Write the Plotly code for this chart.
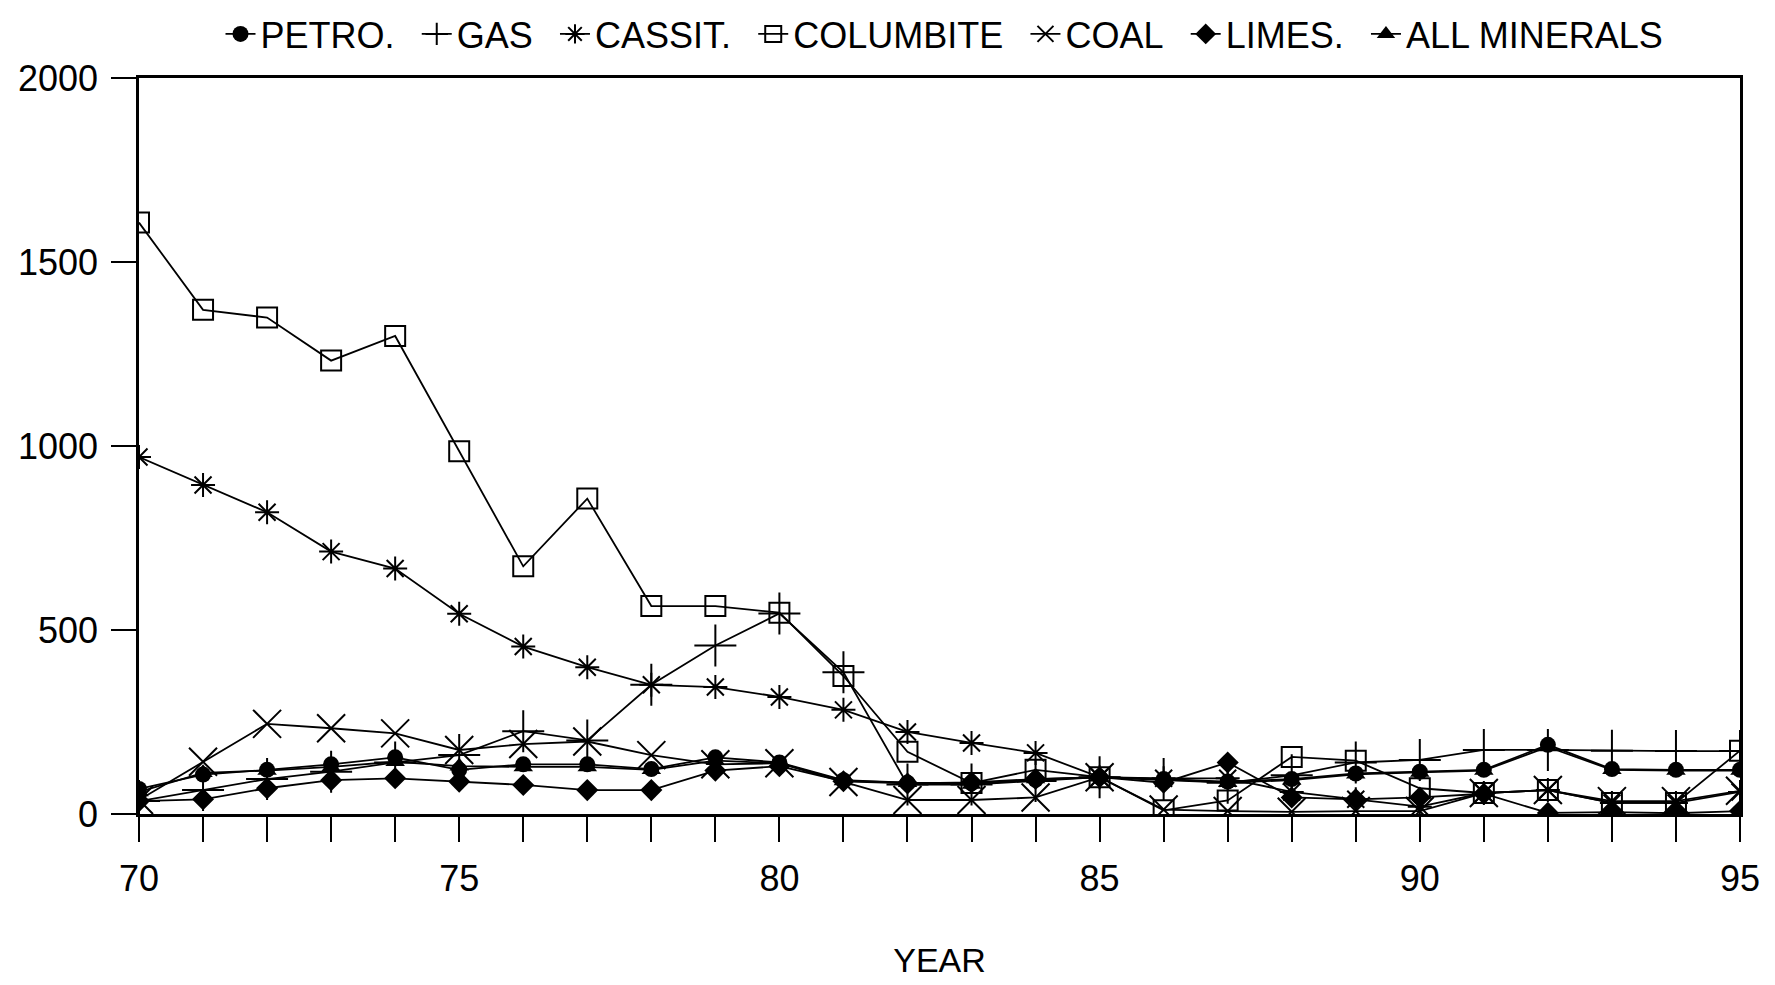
import plotly.graph_objects as go

years = list(range(70, 96))

petro = [68, 107, 120, 135, 154, 120, 135, 135, 122, 154, 140, 92, 85, 83, 93, 100,
         95, 88, 95, 110, 115, 120, 188, 122, 120, 120]
gas = [35, 65, 95, 115, 140, 160, 225, 200, 351, 458, 545, 385, 80, 80, 90, 100,
       95, 85, 105, 140, 147, 174, 174, 172, 171, 171]
cassit = [970, 894, 820, 713, 667, 544, 455, 399, 351, 345, 318, 283, 223, 193, 166, 100,
          97, 97, 60, 40, 20, 57, 65, 30, 30, 60]
columbite = [1607, 1370, 1349, 1232, 1299, 986, 673, 857, 565, 565, 547, 375, 169, 84, 120, 100,
             10, 37, 155, 145, 70, 57, 65, 30, 30, 172]
coal = [38, 142, 245, 233, 219, 174, 190, 197, 160, 135, 138, 87, 38, 38, 45, 100,
        12, 8, 6, 8, 8, 57, 65, 35, 35, 63]
limes = [35, 40, 70, 92, 97, 88, 79, 65, 65, 118, 130, 89, 83, 86, 95, 100,
         85, 140, 45, 40, 45, 55, 3, 5, 2, 8]
all_min = [60, 112, 118, 128, 142, 130, 128, 128, 120, 145, 138, 90, 85, 80, 95, 100,
           92, 85, 92, 108, 113, 118, 182, 120, 118, 118]

names = ["PETRO.", "GAS", "CASSIT.", "COLUMBITE", "COAL", "LIMES.", "ALL MINERALS"]
values = [petro, gas, cassit, columbite, coal, limes, all_min]

OPEN = dict(width=2, color="black")
markers = [
    dict(symbol="circle", size=16, color="black"),
    dict(symbol="cross-thin-open", size=30, color="black", line=OPEN),
    dict(symbol="asterisk-open", size=20, color="black", line=OPEN),
    dict(symbol="square-open", size=20, color="black", line=OPEN),
    dict(symbol="x-thin-open", size=28, color="black", line=OPEN),
    dict(symbol="diamond", size=17, color="black"),
    dict(symbol="triangle-up", size=17, color="black"),
]

fig = go.Figure()
for i, (name, vals, mk) in enumerate(zip(names, values, markers)):
    label = name if i == len(names) - 1 else name + "\u00a0\u2009"
    fig.add_trace(go.Scatter(
        x=years, y=vals, name=label, mode="lines+markers",
        line=dict(color="black", width=1.8), marker=mk,
    ))

FONT = "Liberation Sans, Arial, Helvetica, sans-serif"

fig.update_layout(
    width=1767, height=977,
    margin=dict(l=131, r=35, t=70, b=171, autoexpand=False),
    paper_bgcolor="white", plot_bgcolor="white",
    font=dict(family=FONT, size=36, color="black"),
    legend=dict(orientation="h", xref="container", yref="container",
                x=0.530, xanchor="center", y=0.9734, yanchor="middle",
                font=dict(size=36), itemwidth=30, bgcolor="rgba(0,0,0,0)"),
    showlegend=True,
)
fig.update_xaxes(
    range=[70, 95], tickmode="linear", tick0=70, dtick=5,
    ticks="outside", ticklen=25, tickwidth=2, tickcolor="black",
    minor=dict(ticks="outside", ticklen=25, tickwidth=2, tickcolor="black", dtick=1, tick0=70),
    showline=True, linecolor="black", linewidth=2.5, mirror=True,
    showgrid=False, zeroline=False, ticklabelstandoff=6, automargin=False,
    tickfont=dict(size=36),
    title=dict(text="YEAR", font=dict(size=34), standoff=51),
)
fig.update_yaxes(
    range=[0, 2000], tickmode="linear", tick0=0, dtick=500,
    ticks="outside", ticklen=25, tickwidth=2, tickcolor="black",
    showline=True, linecolor="black", linewidth=2.5, mirror=True,
    showgrid=False, zeroline=False, ticklabelstandoff=6, automargin=False,
    tickfont=dict(size=36),
)

fig.write_html("out.html")
